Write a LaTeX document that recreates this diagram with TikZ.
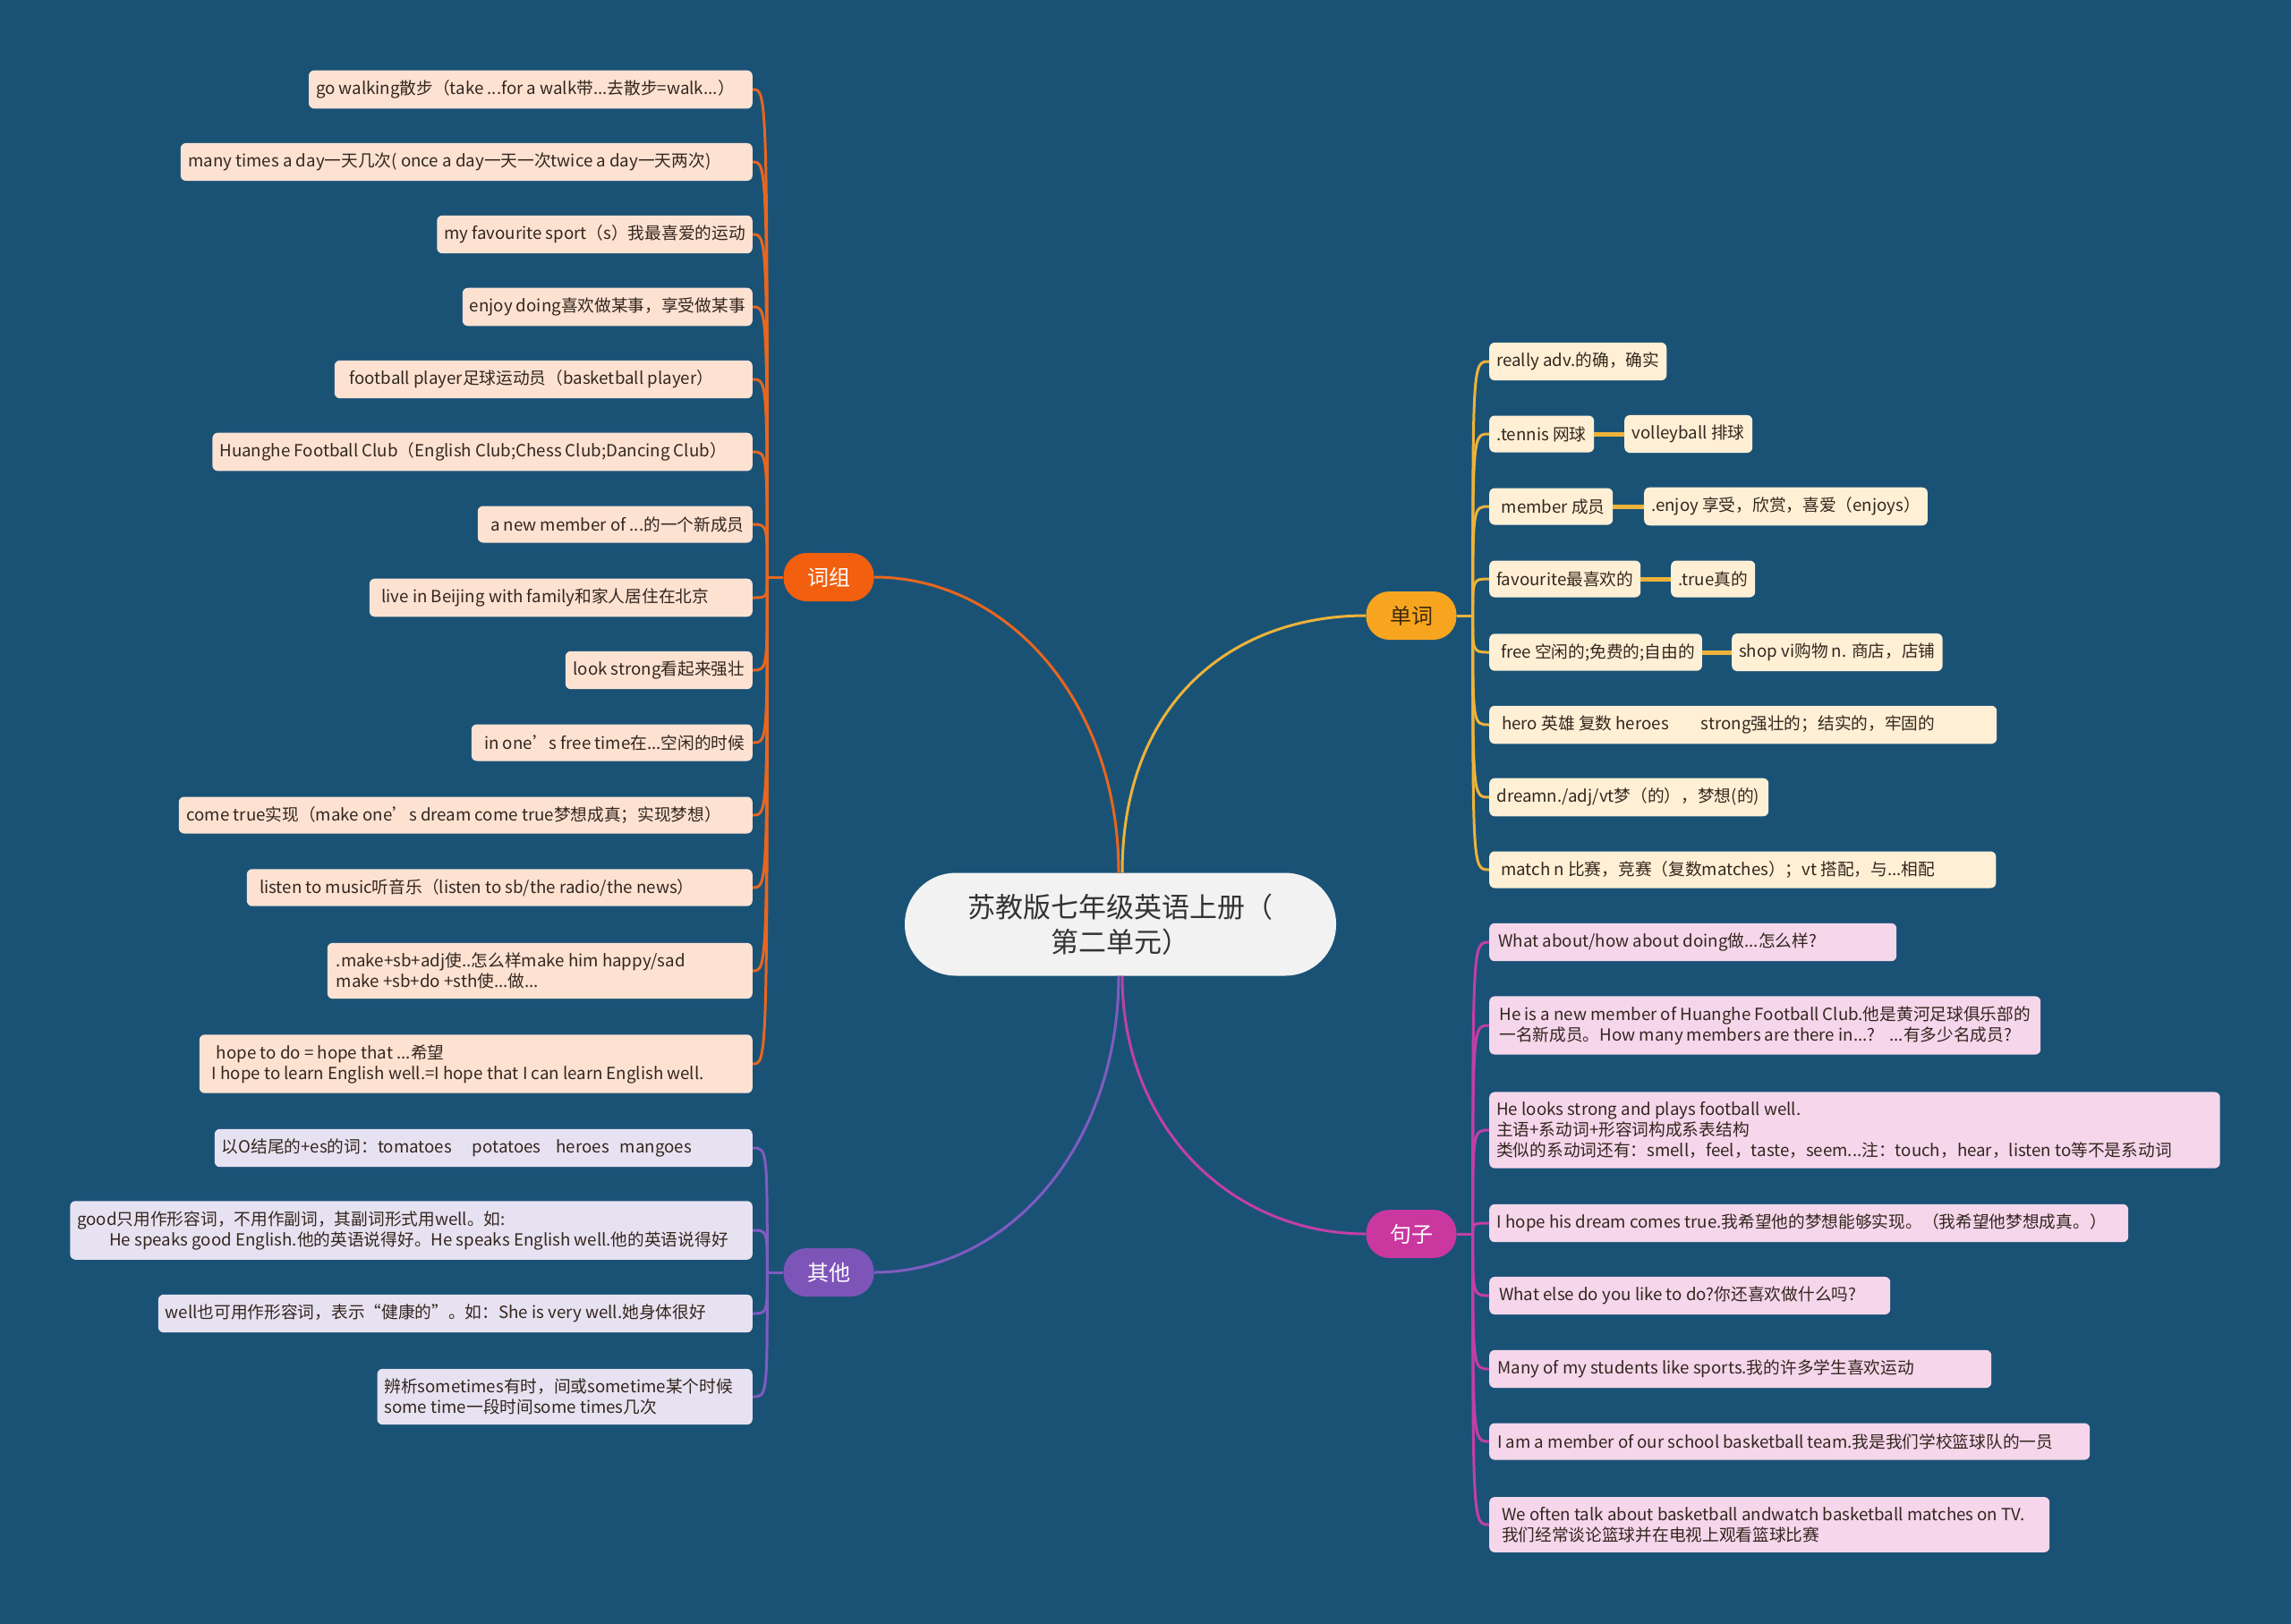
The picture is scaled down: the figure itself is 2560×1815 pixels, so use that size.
\documentclass[tikz,border=0pt]{standalone}
\usepackage{fontspec}
\setmainfont{Noto Sans CJK SC}
\usetikzlibrary{calc}

\definecolor{bgblue}{HTML}{1A5276}
\definecolor{rootF}{HTML}{F2F2F2}
\definecolor{rootT}{HTML}{333333}
\definecolor{cizuC}{HTML}{F2600F}
\definecolor{cizuL}{HTML}{E8661F}
\definecolor{cizuF}{HTML}{FDE2D2}
\definecolor{dancC}{HTML}{F7A51F}
\definecolor{dancL}{HTML}{EDB33A}
\definecolor{dancF}{HTML}{FFF0D5}
\definecolor{dancT}{HTML}{3D2A0A}
\definecolor{juziC}{HTML}{C9379F}
\definecolor{juziL}{HTML}{C23FA8}
\definecolor{juziF}{HTML}{F5D6EB}
\definecolor{qitaC}{HTML}{7D55B9}
\definecolor{qitaL}{HTML}{7F5CC2}
\definecolor{qitaF}{HTML}{E7E2F1}
\definecolor{leaftext}{HTML}{33261E}

\begin{document}
\begin{tikzpicture}[x=1pt,y=-1pt,
  leaf/.style={rounded corners=6pt, inner xsep=8pt, inner ysep=11pt, minimum height=41pt, align=left, text=leaftext, font=\fontsize{18.7}{23}\selectfont},
  lleaf/.style={leaf, anchor=east},
  rleaf/.style={leaf, anchor=west},
  branch/.style={rounded corners=26pt, minimum width=101pt, minimum height=54pt, inner sep=0pt, font=\fontsize{24}{28}\selectfont},
  link/.style={line width=3pt},
  sib/.style={line width=5pt, dancL}]

\fill[bgblue] (0,0) rectangle (2560,1815);

% centre
\node[fill=rootF, text=rootT, rounded corners=57pt, minimum width=482pt, minimum height=115pt, align=center, font=\fontsize{31}{39}\selectfont] (root) at (1252,1033) {苏教版七年级英语上册（\\第二单元）};

\node[branch, fill=cizuC, text=white] (cizu) at (926,645) {词组};
\node[branch, fill=dancC, text=dancT] (danci) at (1577,688) {单词};
\node[branch, fill=juziC, text=white] (juzi) at (1577,1379) {句子};
\node[branch, fill=qitaC, text=white] (qita) at (926,1422) {其他};

\draw[link, cizuL] ([xshift=-2pt]root.north) .. controls +(0,-190) and +(150,0) .. (cizu.east);
\draw[link, dancL] ([xshift=2pt]root.north) .. controls +(0,-190) and +(-150,0) .. (danci.west);
\draw[link, qitaL] ([xshift=-2pt]root.south) .. controls +(0,190) and +(150,0) .. (qita.east);
\draw[link, juziL] ([xshift=2pt]root.south) .. controls +(0,170) and +(-150,0) .. (juzi.west);

% 词组
\node[lleaf, fill=cizuF, minimum width=495pt] (c1) at (841,100) {go walking散步（take ...for a walk带...去散步=walk...）\hspace*{12pt}};
\node[lleaf, fill=cizuF, minimum width=639pt] (c2) at (841,181) {many times a day一天几次( once a day一天一次twice a day一天两次)\hspace*{38pt}};
\node[lleaf, fill=cizuF, minimum width=352pt] (c3) at (841,262) {my favourite sport（s）我最喜爱的运动};
\node[lleaf, fill=cizuF, minimum width=324pt] (c4) at (841,343) {enjoy doing喜欢做某事，享受做某事};
\node[lleaf, fill=cizuF, minimum width=467pt] (c5) at (841,424) {\hspace*{7pt}football player足球运动员（basketball player）\hspace*{34pt}};
\node[lleaf, fill=cizuF, minimum width=601pt] (c6) at (841,505) {Huanghe Football Club（English Club;Chess Club;Dancing Club）\hspace*{21pt}};
\node[lleaf, fill=cizuF, minimum width=307pt] (c7) at (841,586) {\hspace*{5pt}a new member of ...的一个新成员};
\node[lleaf, fill=cizuF, minimum width=428pt] (c8) at (841,668) {\hspace*{5pt}live in Beijing with family和家人居住在北京\hspace*{40pt}};
\node[lleaf, fill=cizuF, minimum width=209pt] (c9) at (841,749) {look strong看起来强壮};
\node[lleaf, fill=cizuF, minimum width=314pt] (c10) at (841,830) {\hspace*{6pt}in one’s free time在...空闲的时候};
\node[lleaf, fill=cizuF, minimum width=641pt] (c11) at (841,911) {come true实现（make one’s dream come true梦想成真；实现梦想）\hspace*{26pt}};
\node[lleaf, fill=cizuF, minimum width=565pt] (c12) at (841,992) {\hspace*{6pt}listen to music听音乐（listen to sb/the radio/the news）\hspace*{57pt}};
\node[lleaf, fill=cizuF, minimum width=475pt] (c13) at (841,1085) {.make+sb+adj使..怎么样make him happy/sad\hspace*{65pt}\\make +sb+do +sth使...做...};
\node[lleaf, fill=cizuF, minimum width=618pt] (c14) at (841,1189) {\hspace*{5pt}hope to do = hope that ...希望\\I hope to learn English well.=I hope that I can learn English well.\hspace*{40pt}};

\path (cizu.west) ++(-18,0) coordinate (cizuhub);
\draw[link, cizuL] (cizu.west) -- (cizuhub);
\foreach \i in {1,...,14}
  \draw[link, cizuL] (cizuhub) .. controls (cizuhub |- c\i.east) .. (c\i.east);

% 其他
\node[lleaf, fill=qitaF, minimum width=601pt] (q1) at (841,1283) {以O结尾的+es的词：tomatoes\hspace{23pt}potatoes\hspace{17pt}heroes\hspace{12pt}mangoes\hspace*{60pt}};
\node[lleaf, fill=qitaF, minimum width=762pt] (q2) at (841,1375) {good只用作形容词，不用作副词，其副词形式用well。如:\\\hspace*{36pt}He speaks good English.他的英语说得好。He speaks English well.他的英语说得好\hspace*{19pt}};
\node[lleaf, fill=qitaF, minimum width=664pt] (q3) at (841,1468) {well也可用作形容词，表示“健康的”。如：She is very well.她身体很好\hspace*{44pt}};
\node[lleaf, fill=qitaF, minimum width=419pt] (q4) at (841,1561) {辨析sometimes有时，间或sometime某个时候\hspace*{14pt}\\some time一段时间some times几次};

\path (qita.west) ++(-18,0) coordinate (qitahub);
\draw[link, qitaL] (qita.west) -- (qitahub);
\foreach \i in {1,...,4}
  \draw[link, qitaL] (qitahub) .. controls (qitahub |- q\i.east) .. (q\i.east);

% 单词
\node[rleaf, fill=dancF, minimum width=196pt] (d1) at (1664,404) {really adv.的确，确实};
\node[rleaf, fill=dancF, minimum width=117pt] (d2) at (1664,485) {.tennis 网球};
\node[rleaf, fill=dancF, minimum width=143pt] (d2b) at (1815,485) {volleyball 排球};
\node[rleaf, fill=dancF, minimum width=138pt] (d3) at (1664,566) {\hspace*{5pt}member 成员};
\node[rleaf, fill=dancF, minimum width=315pt] (d3b) at (1837,566) {.enjoy 享受，欣赏，喜爱（enjoys）};
\node[rleaf, fill=dancF, minimum width=169pt] (d4) at (1664,647) {favourite最喜欢的};
\node[rleaf, fill=dancF, minimum width=94pt] (d4b) at (1867,647) {.true真的};
\node[rleaf, fill=dancF, minimum width=236pt] (d5) at (1664,729) {\hspace*{5pt}free 空闲的;免费的;自由的};
\node[rleaf, fill=dancF, minimum width=235pt] (d5b) at (1935,729) {shop vi购物 n. 商店，店铺};
\node[rleaf, fill=dancF, minimum width=567pt] (d6) at (1664,810) {\hspace*{5pt}hero 英雄 复数 heroes\hspace{36pt}strong强壮的；结实的，牢固的\hspace*{60pt}};
\node[rleaf, fill=dancF, minimum width=312pt] (d7) at (1664,891) {dreamn./adj/vt梦（的），梦想(的)\hspace*{2pt}};
\node[rleaf, fill=dancF, minimum width=565pt] (d8) at (1664,972) {\hspace*{5pt}match n 比赛，竞赛（复数matches）；vt 搭配，与...相配\hspace*{60pt}};

\path (danci.east) ++(18,0) coordinate (dancihub);
\draw[link, dancL] (danci.east) -- (dancihub);
\foreach \i in {1,...,8}
  \draw[link, dancL] (dancihub) .. controls (dancihub |- d\i.west) .. (d\i.west);
\draw[sib] (d2.east) -- (d2b.west);
\draw[sib] (d3.east) -- (d3b.west);
\draw[sib] (d4.east) -- (d4b.west);
\draw[sib] (d5.east) -- (d5b.west);

% 句子
\node[rleaf, fill=juziF, minimum width=455pt] (j1) at (1664,1053) {What about/how about doing做...怎么样?\hspace*{79pt}};
\node[rleaf, fill=juziF, minimum width=616pt] (j2) at (1664,1146) {He is a new member of Huanghe Football Club.他是黄河足球俱乐部的\\一名新成员。How many members are there in...?\hspace{16pt}...有多少名成员?};
\node[rleaf, fill=juziF, minimum width=816pt] (j3) at (1664,1263) {He looks strong and plays football well.\\主语+系动词+形容词构成系表结构\\类似的系动词还有：smell，feel，taste，seem...注：touch，hear，listen to等不是系动词\hspace*{46pt}};
\node[rleaf, fill=juziF, minimum width=714pt] (j4) at (1664,1367) {I hope his dream comes true.我希望他的梦想能够实现。（我希望他梦想成真。）\hspace*{16pt}};
\node[rleaf, fill=juziF, minimum width=448pt] (j5) at (1664,1448) {What else do you like to do?你还喜欢做什么吗?\hspace*{27pt}};
\node[rleaf, fill=juziF, minimum width=561pt] (j6) at (1664,1530) {Many of my students like sports.我的许多学生喜欢运动\hspace*{77pt}};
\node[rleaf, fill=juziF, minimum width=671pt] (j7) at (1664,1611) {I am a member of our school basketball team.我是我们学校篮球队的一员\hspace*{32pt}};
\node[rleaf, fill=juziF, minimum width=626pt] (j8) at (1664,1704) {We often talk about basketball andwatch basketball matches on TV.\hspace*{14pt}\\我们经常谈论篮球并在电视上观看篮球比赛};

\path (juzi.east) ++(18,0) coordinate (juzihub);
\draw[link, juziL] (juzi.east) -- (juzihub);
\foreach \i in {1,...,8}
  \draw[link, juziL] (juzihub) .. controls (juzihub |- j\i.west) .. (j\i.west);

\end{tikzpicture}
\end{document}
